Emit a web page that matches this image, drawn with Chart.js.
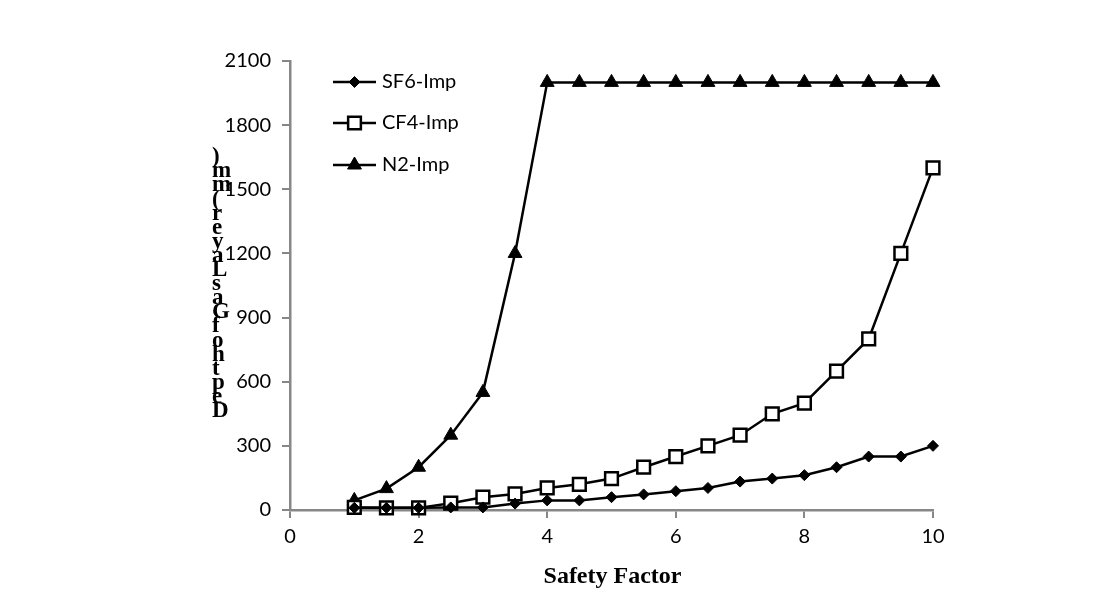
<!DOCTYPE html>
<html>
<head>
<meta charset="utf-8">
<script src="https://cdn.jsdelivr.net/npm/chart.js@4.4.1/dist/chart.umd.min.js"></script>
<style>
  html, body { margin: 0; padding: 0; background: #ffffff; }
  #wrap { width: 1116px; height: 614px; position: relative; }
</style>
</head>
<body>
<div id="wrap"><canvas id="c" width="1116" height="614"></canvas></div>
<script>
// ---- data ----
const safetyFactor = [1, 1.5, 2, 2.5, 3, 3.5, 4, 4.5, 5, 5.5, 6, 6.5, 7, 7.5, 8, 8.5, 9, 9.5, 10];
const sf6Imp = [10, 10, 10, 12, 12, 30, 45, 45, 60, 73, 88, 103, 133, 147, 163, 200, 250, 250, 300];
const cf4Imp = [12, 10, 10, 32, 60, 75, 103, 120, 147, 200, 250, 300, 350, 450, 500, 650, 800, 1200, 1600];
const n2Imp  = [45, 100, 200, 350, 550, 1200, 2000, 2000, 2000, 2000, 2000, 2000, 2000, 2000, 2000, 2000, 2000, 2000, 2000];
const seriesNames = ['SF6-Imp', 'CF4-Imp', 'N2-Imp'];
const xTitle = 'Safety Factor';
const yTitle = 'Depth of Gas Layer (mm)';
const xTicks = { min: 0, max: 10, step: 2 };
const yTicks = { min: 0, max: 2100, step: 300 };

const toXY = (ys) => ys.map((y, i) => ({ x: safetyFactor[i], y: y }));
const AXIS = '#878787';
const TICKFONT = { family: 'Lato', size: 20 };

function drawMarker(ctx, style, x, y, r, fill) {
  ctx.save();
  ctx.beginPath();
  if (style === 'rectRot') {
    ctx.moveTo(x - r, y); ctx.lineTo(x, y - r); ctx.lineTo(x + r, y); ctx.lineTo(x, y + r);
    ctx.closePath();
  } else if (style === 'rect') {
    const s = Math.SQRT1_2 * r;
    ctx.rect(x - s, y - s, 2 * s, 2 * s);
  } else if (style === 'triangle') {
    ctx.moveTo(x, y - r);
    ctx.lineTo(x + Math.sin(2 * Math.PI / 3) * r, y - Math.cos(2 * Math.PI / 3) * r);
    ctx.lineTo(x + Math.sin(4 * Math.PI / 3) * r, y - Math.cos(4 * Math.PI / 3) * r);
    ctx.closePath();
  }
  ctx.fillStyle = fill;
  ctx.fill();
  ctx.lineWidth = style === 'rect' ? 2.5 : 1;
  ctx.strokeStyle = '#000';
  ctx.stroke();
  ctx.restore();
}

const legendAndTitles = {
  id: 'legendAndTitles',
  afterDraw(chart) {
    const ctx = chart.ctx;
    const ca = chart.chartArea;
    const rows = [82, 123, 165];
    chart.data.datasets.forEach((ds, i) => {
      const y = rows[i];
      ctx.save();
      ctx.strokeStyle = '#000';
      ctx.lineWidth = 2.5;
      ctx.beginPath();
      ctx.moveTo(333, y); ctx.lineTo(376, y);
      ctx.stroke();
      ctx.restore();
      drawMarker(ctx, ds.pointStyle, 354.5, y, ds.pointRadius, ds.pointBackgroundColor);
      ctx.save();
      ctx.fillStyle = '#000';
      ctx.font = '20px Lato';
      ctx.textAlign = 'left';
      ctx.textBaseline = 'middle';
      ctx.fillText(ds.label, 382, y);
      ctx.restore();
    });
    ctx.save();
    ctx.fillStyle = '#000';
    ctx.font = 'bold 24px "Liberation Serif"';
    ctx.textAlign = 'center';
    ctx.textBaseline = 'alphabetic';
    ctx.fillText(xTitle, (ca.left + ca.right) / 2 + 1, 583);
    const chars = yTitle.replace(/ /g, '').split('');
    ctx.font = 'bold 23px "Liberation Serif"';
    ctx.textAlign = 'left';
    chars.forEach((ch, i) => {
      ctx.fillText(ch, 212, 417 - i * 14.1);
    });
    ctx.restore();
  }
};

const mk = (label, data, style, radius, fill) => ({
  label: label,
  data: toXY(data),
  borderColor: '#000',
  borderWidth: 2.5,
  pointStyle: style,
  pointRadius: radius,
  pointHoverRadius: radius,
  pointBackgroundColor: fill,
  pointBorderColor: '#000',
  pointBorderWidth: style === 'rect' ? 2.5 : 1,
  tension: 0,
  fill: false,
  clip: false
});

new Chart(document.getElementById('c'), {
  type: 'line',
  data: {
    datasets: [
      mk(seriesNames[0], sf6Imp, 'rectRot', 5.5, '#000'),
      mk(seriesNames[1], cf4Imp, 'rect', 9, '#fff'),
      mk(seriesNames[2], n2Imp, 'triangle', 8, '#000')
    ]
  },
  options: {
    responsive: false,
    animation: false,
    layout: { padding: { top: 61, right: 183, bottom: 0, left: 0 } },
    plugins: { legend: { display: false }, tooltip: { enabled: false }, title: { display: false } },
    scales: {
      x: {
        type: 'linear',
        min: xTicks.min, max: xTicks.max,
        ticks: { stepSize: xTicks.step, color: '#000', font: TICKFONT, padding: 7, maxRotation: 0,
                 callback: (v) => String(v) },
        grid: { drawOnChartArea: false, drawTicks: true, tickLength: 8, color: AXIS, lineWidth: 2 },
        border: { color: AXIS, width: 2.5 },
        afterFit(scale) { scale.height = 104; }
      },
      y: {
        min: yTicks.min, max: yTicks.max,
        ticks: { stepSize: yTicks.step, color: '#000', font: TICKFONT, padding: 11,
                 callback: (v) => String(v) },
        grid: { drawOnChartArea: false, drawTicks: true, tickLength: 8, color: AXIS, lineWidth: 2 },
        border: { color: AXIS, width: 2.5 },
        afterFit(scale) { scale.width = 290; }
      }
    }
  },
  plugins: [legendAndTitles]
});
</script>
</body>
</html>
